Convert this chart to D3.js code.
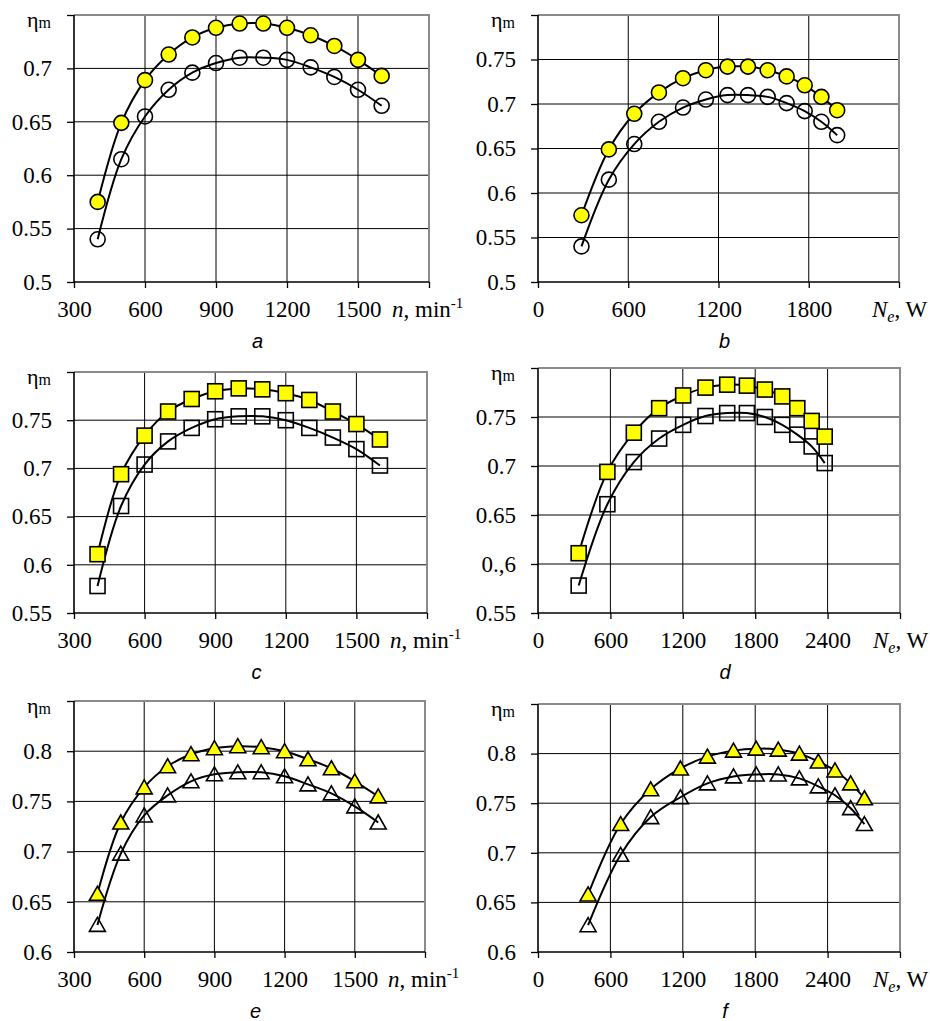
<!DOCTYPE html>
<html>
<head>
<meta charset="utf-8">
<script src="https://cdn.jsdelivr.net/npm/d3@7"></script>
<style>
  body { margin: 0; background: #fff; }
  svg { display: block; }
</style>
</head>
<body>
<script>
// shaft speed, min-1 (panels a, c, e)
var speed = [400, 500, 600, 700, 800, 900, 1000, 1100, 1200, 1300, 1400, 1500, 1600];

// circles (a, b)
var etaRoundFilled = [0.575, 0.649, 0.689, 0.713, 0.729, 0.738, 0.742, 0.742, 0.738, 0.731, 0.721, 0.708, 0.693];
var etaRoundOpen   = [0.540, 0.615, 0.655, 0.680, 0.696, 0.705, 0.710, 0.710, 0.708, 0.701, 0.692, 0.680, 0.665];
var powerRound     = [289, 471, 640, 804, 964, 1116, 1260, 1396, 1527, 1653, 1773, 1884, 1989];

// squares (c, d)
var etaSquareFilled = [0.611, 0.694, 0.734, 0.759, 0.772, 0.780, 0.783, 0.782, 0.778, 0.771, 0.759, 0.746, 0.730];
var etaSquareOpen   = [0.578, 0.661, 0.704, 0.728, 0.742, 0.751, 0.754, 0.754, 0.750, 0.742, 0.732, 0.720, 0.703];
var powerSquare     = [337, 575, 794, 1004, 1203, 1388, 1568, 1731, 1880, 2024, 2149, 2268, 2376];

// triangles (e, f)
var etaTriFilled = [0.658, 0.729, 0.764, 0.785, 0.797, 0.803, 0.805, 0.804, 0.800, 0.792, 0.783, 0.770, 0.755];
var etaTriOpen   = [0.627, 0.698, 0.736, 0.756, 0.770, 0.777, 0.779, 0.779, 0.775, 0.767, 0.758, 0.745, 0.729];
var powerTri     = [415, 685, 934, 1180, 1404, 1620, 1808, 1991, 2166, 2323, 2461, 2591, 2705];

// tick values and labels (top y tick has no label, the eta label sits there)
var xTicksSpeed = [300, 600, 900, 1200, 1500, 1800];
var xLabelsSpeed = ["300", "600", "900", "1200", "1500", ""];
var xTicksPowerB = [0, 600, 1200, 1800, 2400];
var xLabelsPowerB = ["0", "600", "1200", "1800", ""];
var xTicksPower = [0, 600, 1200, 1800, 2400, 3000];
var xLabelsPower = ["0", "600", "1200", "1800", "2400", ""];

var yTicksA = [0.5, 0.55, 0.6, 0.65, 0.7, 0.75];
var yLabelsA = ["0.5", "0.55", "0.6", "0.65", "0.7", ""];
var yTicksB = [0.5, 0.55, 0.6, 0.65, 0.7, 0.75, 0.8];
var yLabelsB = ["0.5", "0.55", "0.6", "0.65", "0.7", "0.75", ""];
var yTicksC = [0.55, 0.6, 0.65, 0.7, 0.75, 0.8];
var yLabelsC = ["0.55", "0.6", "0.65", "0.7", "0.75", ""];
var yLabelsD = ["0.55", "0.,6", "0.65", "0.7", "0.75", ""];
var yTicksE = [0.6, 0.65, 0.7, 0.75, 0.8, 0.85];
var yLabelsE = ["0.6", "0.65", "0.7", "0.75", "0.8", ""];

var panelNames = ["a", "b", "c", "d", "e", "f"];

var panels = [
  { name: panelNames[0], box: [74, 429, 15, 282], xs: speed, xd: [300, 1800], xt: xTicksSpeed, xl: xLabelsSpeed,
    yd: [0.5, 0.75], yt: yTicksA, yl: yLabelsA, filled: etaRoundFilled, open: etaRoundOpen, mark: "circle", unit: "n" },
  { name: panelNames[1], box: [538, 899, 15, 282], xs: powerRound, xd: [0, 2400], xt: xTicksPowerB, xl: xLabelsPowerB,
    yd: [0.5, 0.8], yt: yTicksB, yl: yLabelsB, filled: etaRoundFilled, open: etaRoundOpen, mark: "circle", unit: "N" },
  { name: panelNames[2], box: [74, 427, 372, 613], xs: speed, xd: [300, 1800], xt: xTicksSpeed, xl: xLabelsSpeed,
    yd: [0.55, 0.8], yt: yTicksC, yl: yLabelsC, filled: etaSquareFilled, open: etaSquareOpen, mark: "square", unit: "n" },
  { name: panelNames[3], box: [538, 900, 368, 613], xs: powerSquare, xd: [0, 3000], xt: xTicksPower, xl: xLabelsPower,
    yd: [0.55, 0.8], yt: yTicksC, yl: yLabelsD, filled: etaSquareFilled, open: etaSquareOpen, mark: "square", unit: "N" },
  { name: panelNames[4], box: [74, 425, 701, 952], xs: speed, xd: [300, 1800], xt: xTicksSpeed, xl: xLabelsSpeed,
    yd: [0.6, 0.85], yt: yTicksE, yl: yLabelsE, filled: etaTriFilled, open: etaTriOpen, mark: "tri", unit: "n" },
  { name: panelNames[5], box: [538, 900, 704, 952], xs: powerTri, xd: [0, 3000], xt: xTicksPower, xl: xLabelsPower,
    yd: [0.6, 0.85], yt: yTicksE, yl: yLabelsE, filled: etaTriFilled, open: etaTriOpen, mark: "tri", unit: "N" }
];

var serif = "Liberation Serif";

var svg = d3.select("body").append("svg")
  .attr("width", 930)
  .attr("height", 1021);

svg.append("rect").attr("width", 930).attr("height", 1021).attr("fill", "#fff");

function drawMarker(sel, kind, fill) {
  if (kind == "circle") {
    sel.append("circle").attr("r", 7.5);
  } else if (kind == "square") {
    sel.append("rect").attr("x", -7.5).attr("y", -7.5).attr("width", 15).attr("height", 15);
  } else {
    sel.append("path").attr("d", "M0,-7.5L8,6.5L-8,6.5Z");
  }
  sel.selectAll("circle,rect,path")
    .attr("fill", fill)
    .attr("stroke", "#000")
    .attr("stroke-width", 1.6);
}

panels.forEach(function(p) {
  var left = p.box[0], right = p.box[1], top = p.box[2], bottom = p.box[3];
  var x = d3.scaleLinear().domain(p.xd).range([left, right]);
  var y = d3.scaleLinear().domain(p.yd).range([bottom, top]);
  var g = svg.append("g");

  // grid
  g.selectAll(".hg").data(p.yt.slice(1, -1)).enter().append("line")
    .attr("x1", left).attr("x2", right)
    .attr("y1", function(d) { return y(d) }).attr("y2", function(d) { return y(d) })
    .attr("stroke", "#000").attr("stroke-width", 1);
  g.selectAll(".vg").data(p.xt.slice(1, -1)).enter().append("line")
    .attr("x1", function(d) { return x(d) }).attr("x2", function(d) { return x(d) })
    .attr("y1", top).attr("y2", bottom)
    .attr("stroke", "#000").attr("stroke-width", 1);

  // gray frame top / right
  g.append("path")
    .attr("d", "M" + left + "," + top + "H" + right + "V" + bottom)
    .attr("fill", "none").attr("stroke", "#8a8a8a").attr("stroke-width", 2);

  // axes
  var xa = g.append("g")
    .attr("transform", "translate(0," + bottom + ")")
    .call(d3.axisBottom(x).tickValues(p.xt).tickSize(6).tickPadding(13)
      .tickFormat(function(d, i) { return p.xl[i] }));
  var ya = g.append("g")
    .attr("transform", "translate(" + left + ",0)")
    .call(d3.axisLeft(y).tickValues(p.yt).tickSize(7).tickPadding(15)
      .tickFormat(function(d, i) { return p.yl[i] }));
  [xa, ya].forEach(function(a) {
    a.selectAll(".domain").remove();
    a.selectAll("line").attr("stroke", "#000").attr("stroke-width", 1.3);
    a.attr("font-family", serif).attr("font-size", 23);
    a.selectAll("text").attr("font-family", serif).attr("font-size", 23).attr("fill", "#000");
  });
  g.append("line").attr("x1", left).attr("x2", right).attr("y1", bottom).attr("y2", bottom)
    .attr("stroke", "#000").attr("stroke-width", 1.6);
  g.append("line").attr("x1", left).attr("x2", left).attr("y1", top).attr("y2", bottom)
    .attr("stroke", "#000").attr("stroke-width", 1.6);

  // eta label
  var eta = g.append("text").attr("x", left - 47).attr("y", top + 12)
    .attr("font-family", serif).attr("font-size", 22);
  eta.append("tspan").text("η");
  eta.append("tspan").attr("font-size", 16).attr("dy", 1).text("m");

  // x axis title
  var at = g.append("text").attr("font-family", serif).attr("font-size", 23)
    .attr("y", bottom + 35);
  if (p.unit == "n") {
    at.attr("x", right - 37);
    at.append("tspan").attr("font-style", "italic").text("n");
    at.append("tspan").text(", min");
    at.append("tspan").attr("font-size", 15).attr("dy", -9).text("-1");
  } else {
    at.attr("x", right - 27);
    at.append("tspan").attr("font-style", "italic").text("N");
    at.append("tspan").attr("font-style", "italic").attr("font-size", 16).attr("dy", 5).text("e");
    at.append("tspan").attr("dy", -5).text(", W");
  }

  // curves
  var line = d3.line()
    .x(function(d) { return x(d[0]) })
    .y(function(d) { return y(d[1]) })
    .curve(d3.curveCatmullRom.alpha(0.5));
  [p.open, p.filled].forEach(function(s) {
    g.append("path")
      .datum(p.xs.map(function(v, i) { return [v, s[i]] }))
      .attr("d", line)
      .attr("fill", "none").attr("stroke", "#000").attr("stroke-width", 2);
  });

  // markers: open first, then yellow
  [[p.open, "none"], [p.filled, "#ffff00"]].forEach(function(s) {
    g.selectAll(null)
      .data(p.xs.map(function(v, i) { return [v, s[0][i]] }))
      .enter().append("g")
      .attr("transform", function(d) { return "translate(" + x(d[0]) + "," + y(d[1]) + ")" })
      .each(function() { drawMarker(d3.select(this), p.mark, s[1]) });
  });

  // panel letter
  g.append("text")
    .attr("x", (left + right) / 2 + 6)
    .attr("y", bottom + 66)
    .attr("text-anchor", "middle")
    .attr("font-family", "Liberation Sans")
    .attr("font-style", "italic")
    .attr("font-size", 20)
    .text(p.name);
});
</script>
</body>
</html>
